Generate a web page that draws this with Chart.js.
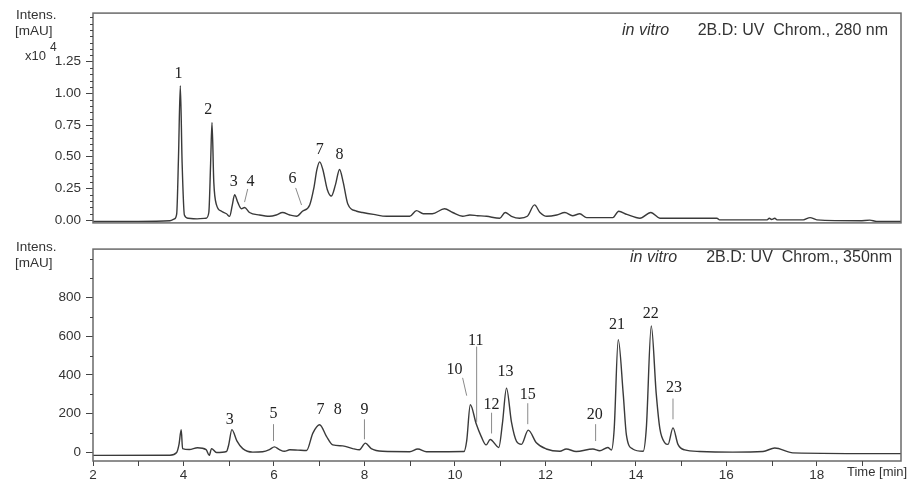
<!DOCTYPE html>
<html>
<head>
<meta charset="utf-8">
<script src="https://cdn.jsdelivr.net/npm/chart.js@4"></script>
<style>
  html, body { margin: 0; padding: 0; background: #fff; }
  #wrap { position: relative; width: 912px; height: 483px; }
  #top { position: absolute; left: 0; top: 0; }
  #bottom { position: absolute; left: 0; top: 236px; }
</style>
</head>
<body>
<div id="wrap">
  <canvas id="top" width="912" height="236"></canvas>
  <canvas id="bottom" width="912" height="247"></canvas>
</div>
<script>
// 280 nm trace (intensity in x10^4 mAU)
const TOP_TIME = [2.0, 3.0, 3.7, 3.8, 3.85, 3.89, 3.93, 3.97, 4.02, 4.1, 4.3, 4.5, 4.56, 4.6, 4.63, 4.67, 4.73, 4.84, 4.95, 5.02,
  5.08, 5.13, 5.2, 5.28, 5.35, 5.46, 5.68, 5.9, 6.05, 6.19, 6.35, 6.5, 6.63, 6.79, 6.88, 6.95, 7.01, 7.08, 7.18, 7.27,
  7.36, 7.45, 7.53, 7.63, 7.83, 7.96, 8.2, 8.49, 9.0, 9.15, 9.3, 9.5, 9.77, 9.95, 10.17, 10.33, 10.5, 10.7, 10.99, 11.11,
  11.25, 11.43, 11.6, 11.76, 11.88, 12.03, 12.25, 12.43, 12.6, 12.76, 12.91, 13.49, 13.62, 13.8, 14.09, 14.33, 14.53, 15.79, 15.85, 16.9,
  16.95, 17.0, 17.07, 17.12, 17.7, 17.85, 18.0, 18.95, 19.17, 19.32, 19.86];
const TOP_INTENS = [-0.01, -0.01, -0.005, 0.01, 0.05, 0.5, 1.06, 0.45, 0.04, 0.015, 0.01, 0.015, 0.06, 0.45, 0.77, 0.3, 0.12, 0.07, 0.05, 0.03,
  0.12, 0.20, 0.14, 0.09, 0.10, 0.06, 0.04, 0.03, 0.04, 0.06, 0.04, 0.03, 0.07, 0.12, 0.25, 0.40, 0.46, 0.40, 0.24, 0.19,
  0.28, 0.40, 0.30, 0.13, 0.07, 0.06, 0.045, 0.03, 0.03, 0.075, 0.05, 0.05, 0.09, 0.06, 0.03, 0.04, 0.035, 0.03, 0.015, 0.06,
  0.03, 0.015, 0.03, 0.12, 0.06, 0.03, 0.04, 0.06, 0.035, 0.05, 0.02, 0.02, 0.07, 0.045, 0.015, 0.06, 0.015, 0.015, 0.002, 0.002,
  0.015, 0.005, 0.015, 0.002, 0.002, 0.02, 0.002, -0.005, 0.0, -0.01, -0.01];

// 350 nm trace (mAU)
const BOT_TIME = [2.0, 3.7, 3.85, 3.9, 3.95, 3.98, 4.13, 4.31, 4.5, 4.57, 4.62, 4.73, 4.95, 5.0, 5.07, 5.18, 5.31, 5.53, 5.75, 5.9,
  6.01, 6.12, 6.23, 6.35, 6.53, 6.72, 6.86, 7.01, 7.16, 7.3, 7.52, 7.74, 7.89, 8.02, 8.15, 8.4, 9.0, 9.18, 9.37, 10.2,
  10.26, 10.34, 10.47, 10.58, 10.69, 10.78, 10.97, 11.05, 11.14, 11.25, 11.36, 11.47, 11.62, 11.8, 12.02, 12.32, 12.46, 12.68, 13.05, 13.2,
  13.38, 13.46, 13.52, 13.61, 13.72, 13.79, 13.93, 14.16, 14.23, 14.34, 14.45, 14.53, 14.64, 14.71, 14.82, 14.93, 15.08, 15.41, 16.14, 16.81,
  17.07, 17.47, 19.86];
const BOT_INTENS = [-15, -14, 0, 40, 117, 20, 15, 24, 15, -15, 20, 0, 5, 40, 118, 60, 20, 2, 4, 15,
  29, 15, 6, 14, 12, 10, 100, 143, 83, 39, 34, 20, 14, 48, 20, 6, 4, 18, 4, 5,
  60, 246, 148, 83, 39, 67, 26, 150, 332, 156, 58, 42, 115, 50, 18, 6, 18, 5, 18, 9,
  26, 13, 120, 582, 302, 91, 18, 6, 123, 652, 302, 123, 50, 42, 127, 42, 13, 5, 2, 5,
  23, -2, -6];

const TOP_Y_TICKS = [0, 0.25, 0.5, 0.75, 1.0, 1.25];
const TOP_Y_MINOR = [0.05, 0.1, 0.15, 0.2, 0.3, 0.35, 0.4, 0.45, 0.55, 0.6, 0.65, 0.7, 0.8, 0.85, 0.9, 0.95,
  1.05, 1.1, 1.15, 1.2, 1.3, 1.35, 1.4, 1.45, 1.5, 1.55, 1.6];
const BOT_Y_TICKS = [0, 200, 400, 600, 800];
const BOT_Y_MINOR = [100, 300, 500, 700, 900, 1000];
const X_TICKS = [2, 4, 6, 8, 10, 12, 14, 16, 18];
const X_MINOR = [3, 5, 7, 9, 11, 13, 15, 17, 19];

// peak numbers: label anchor (time, intensity)
const TOP_PEAK_NAMES = ['1', '2', '3', '4', '6', '7', '8'];
const TOP_PEAK_T = [3.89, 4.55, 5.11, 5.48, 6.41, 7.01, 7.45];
const TOP_PEAK_V = [1.157, 0.873, 0.30, 0.306, 0.328, 0.552, 0.515];
const TOP_LEADERS = [[5.42, 0.246, 5.35, 0.142], [6.48, 0.254, 6.61, 0.119]];

const BOT_PEAK_NAMES = ['3', '5', '7', '8', '9', '10', '11', '12', '13', '15', '20', '21', '22', '23'];
const BOT_PEAK_T = [5.02, 5.99, 7.03, 7.41, 8.0, 9.99, 10.46, 10.81, 11.12, 11.61, 13.09, 13.58, 14.33, 14.84];
const BOT_PEAK_V = [166, 200, 220, 220, 220, 424, 576, 244, 415, 298, 195, 659, 717, 332];
const BOT_LEADERS = [[5.99, 146, 5.99, 59], [8.0, 171, 8.0, 68], [10.17, 385, 10.26, 293], [10.48, 546, 10.48, 156],
  [10.81, 205, 10.81, 98], [11.61, 254, 11.61, 146], [13.11, 146, 13.11, 59], [14.82, 278, 14.82, 171]];

const SANS = 'Liberation Sans, Arial, sans-serif';
const SERIF = 'Liberation Serif, Times New Roman, serif';

// frame round the plot area
const frame = {
  id: 'frame',
  afterDraw(chart) {
    const { ctx, chartArea: a } = chart;
    ctx.save();
    ctx.strokeStyle = '#6a6a6a';
    ctx.lineWidth = 1.5;
    ctx.strokeRect(a.left, a.top, a.right - a.left, a.bottom - a.top);
    ctx.restore();
  }
};

// short minor ticks
const minorTicks = {
  id: 'minorTicks',
  afterDraw(chart, args, opts) {
    const { ctx, chartArea: a, scales } = chart;
    ctx.save();
    ctx.strokeStyle = '#444';
    ctx.lineWidth = 1;
    (opts.y || []).forEach(v => {
      const py = Math.round(scales.y.getPixelForValue(v)) + 0.5;
      if (py < a.top || py > a.bottom) return;
      ctx.beginPath();
      ctx.moveTo(a.left - 3, py);
      ctx.lineTo(a.left, py);
      ctx.stroke();
    });
    (opts.x || []).forEach(v => {
      const px = Math.round(scales.x.getPixelForValue(v)) + 0.5;
      ctx.beginPath();
      ctx.moveTo(px, a.bottom);
      ctx.lineTo(px, a.bottom + 5);
      ctx.stroke();
    });
    ctx.restore();
  }
};

// peak numbers and leader lines
const peakLabels = {
  id: 'peakLabels',
  afterDatasetsDraw(chart, args, opts) {
    const { ctx, scales } = chart;
    ctx.save();
    ctx.strokeStyle = '#8a8a8a';
    ctx.lineWidth = 1;
    opts.leaders.forEach(l => {
      ctx.beginPath();
      ctx.moveTo(scales.x.getPixelForValue(l[0]), scales.y.getPixelForValue(l[1]));
      ctx.lineTo(scales.x.getPixelForValue(l[2]), scales.y.getPixelForValue(l[3]));
      ctx.stroke();
    });
    ctx.fillStyle = '#222';
    ctx.font = '16px ' + SERIF;
    ctx.textAlign = 'center';
    ctx.textBaseline = 'middle';
    opts.names.forEach((n, i) => {
      ctx.fillText(n, scales.x.getPixelForValue(opts.t[i]), scales.y.getPixelForValue(opts.v[i]));
    });
    ctx.restore();
  }
};

// axis titles and trace captions
const captions = {
  id: 'captions',
  afterDraw(chart, args, opts) {
    const { ctx } = chart;
    ctx.save();
    ctx.fillStyle = '#333';
    ctx.textBaseline = 'middle';
    opts.items.forEach(it => {
      ctx.font = it.font;
      ctx.textAlign = it.align || 'left';
      ctx.fillText(it.text, it.x, it.y);
    });
    ctx.restore();
  }
};

function toPoints(time, intens) {
  return time.map((t, i) => ({ x: t, y: intens[i] }));
}

function traceDataset(time, intens) {
  return {
    data: toPoints(time, intens),
    borderColor: '#3a3a3a',
    borderWidth: 1.4,
    pointRadius: 0,
    fill: false,
    cubicInterpolationMode: 'monotone'
  };
}

function yAxis(min, max, ticks, fmt) {
  return {
    type: 'linear',
    min: min,
    max: max,
    afterFit: s => { s.width = 93; },
    afterBuildTicks: s => { s.ticks = ticks.map(v => ({ value: v })); },
    grid: { drawOnChartArea: false, tickLength: 7, tickColor: '#444' },
    border: { display: false },
    ticks: {
      padding: 5,
      color: '#333',
      font: { family: SANS, size: 13.5 },
      callback: fmt
    }
  };
}

new Chart(document.getElementById('top'), {
  type: 'line',
  data: { datasets: [traceDataset(TOP_TIME, TOP_INTENS)] },
  options: {
    responsive: false,
    animation: false,
    events: [],
    layout: { padding: { top: 12, right: 11, bottom: 2, left: 0 } },
    scales: {
      x: { type: 'linear', min: 2, max: 19.86, display: false },
      y: yAxis(-0.022, 1.634, TOP_Y_TICKS, v => v.toFixed(2))
    },
    plugins: {
      legend: { display: false },
      tooltip: { enabled: false },
      minorTicks: { y: TOP_Y_MINOR },
      peakLabels: { names: TOP_PEAK_NAMES, t: TOP_PEAK_T, v: TOP_PEAK_V, leaders: TOP_LEADERS },
      captions: {
        items: [
          { text: 'Intens.', x: 16, y: 15, font: '13.5px ' + SANS },
          { text: '[mAU]', x: 15, y: 31, font: '13.5px ' + SANS },
          { text: 'x10', x: 25, y: 56, font: '13px ' + SANS },
          { text: '4', x: 50, y: 48, font: '12px ' + SANS },
          { text: 'in vitro', x: 622, y: 31, font: 'italic 16px ' + SANS },
          { text: '2B.D: UV  Chrom., 280 nm', x: 888, y: 31, font: '16px ' + SANS, align: 'right' }
        ]
      }
    }
  },
  plugins: [frame, minorTicks, peakLabels, captions]
});

new Chart(document.getElementById('bottom'), {
  type: 'line',
  data: { datasets: [traceDataset(BOT_TIME, BOT_INTENS)] },
  options: {
    responsive: false,
    animation: false,
    events: [],
    layout: { padding: { top: 1, right: 11, bottom: 0, left: 0 } },
    scales: {
      x: {
        type: 'linear',
        min: 2,
        max: 19.86,
        afterFit: s => { s.height = 22; },
        afterBuildTicks: s => { s.ticks = X_TICKS.map(v => ({ value: v })); },
        grid: { drawOnChartArea: false, tickLength: 5, tickColor: '#444' },
        border: { display: false },
        ticks: {
          padding: 1,
          maxRotation: 0,
          color: '#333',
          font: { family: SANS, size: 13.5 }
        }
      },
      y: yAxis(-44, 1049, BOT_Y_TICKS, v => String(v))
    },
    plugins: {
      legend: { display: false },
      tooltip: { enabled: false },
      minorTicks: { y: BOT_Y_MINOR, x: X_MINOR },
      peakLabels: { names: BOT_PEAK_NAMES, t: BOT_PEAK_T, v: BOT_PEAK_V, leaders: BOT_LEADERS },
      captions: {
        items: [
          { text: 'Intens.', x: 16, y: 11, font: '13.5px ' + SANS },
          { text: '[mAU]', x: 15, y: 27, font: '13.5px ' + SANS },
          { text: 'in vitro', x: 630, y: 22, font: 'italic 16px ' + SANS },
          { text: '2B.D: UV  Chrom., 350nm', x: 892, y: 22, font: '16px ' + SANS, align: 'right' },
          { text: 'Time [min]', x: 847, y: 236, font: '13px ' + SANS }
        ]
      }
    }
  },
  plugins: [frame, minorTicks, peakLabels, captions]
});
</script>
</body>
</html>
